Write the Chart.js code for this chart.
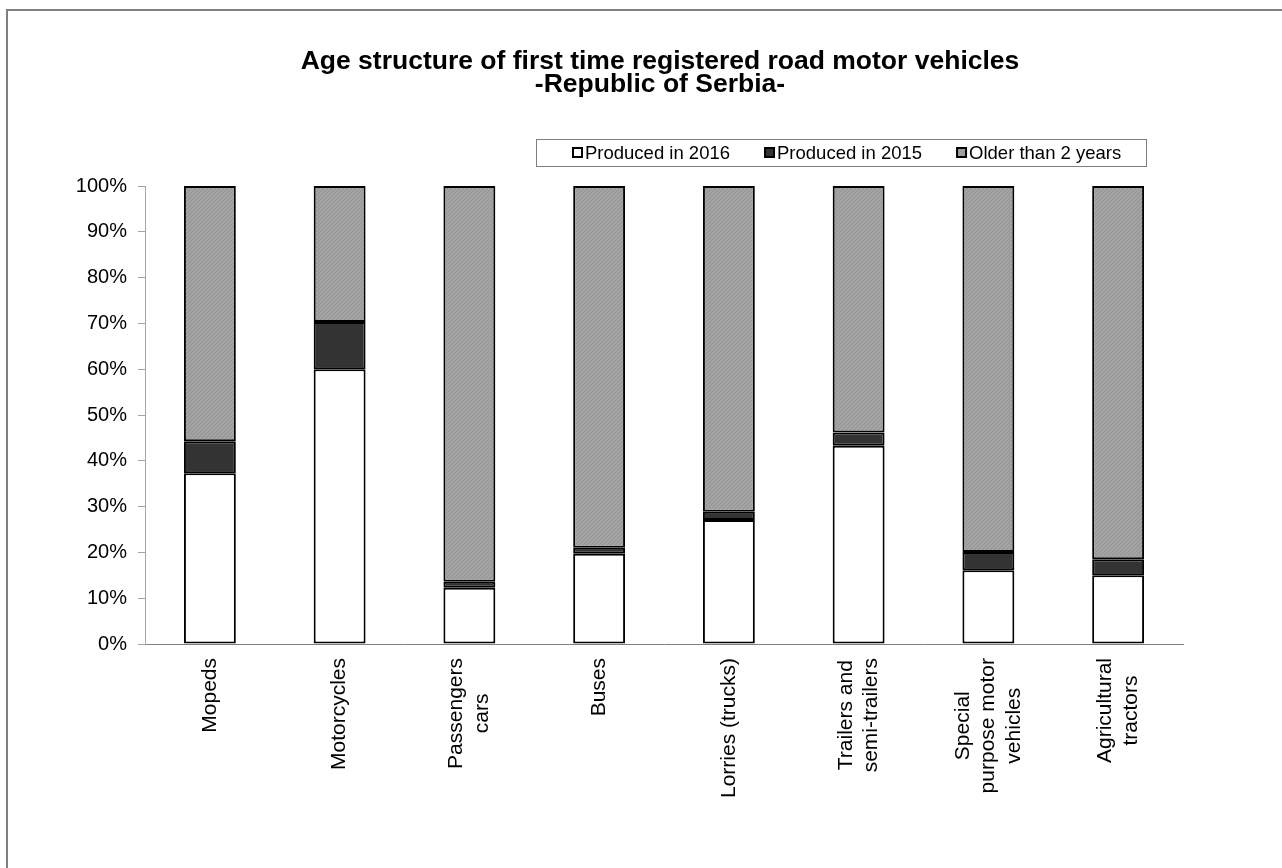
<!DOCTYPE html>
<html>
<head>
<meta charset="utf-8">
<title>Age structure of first time registered road motor vehicles</title>
<script src="https://cdn.jsdelivr.net/npm/chart.js@4.4.1/dist/chart.umd.min.js"></script>
<style>
    html, body { margin: 0; padding: 0; background: #fff; }
    #wrap { position: relative; width: 1282px; height: 868px; }
    canvas { display: block; }
</style>
</head>
<body>
<div id="wrap"><canvas id="ageChart" width="1282" height="868"></canvas></div>
<script>
// categories (multi-line labels as in the original sheet)
const categories = [
    'Mopeds',
    'Motorcycles',
    ['Passengers', 'cars'],
    'Buses',
    'Lorries (trucks)',
    ['Trailers and', 'semi-trailers'],
    ['Special', 'purpose motor', 'vehicles'],
    ['Agricultural', 'tractors']
];
const seriesNames = ['Produced in 2016', 'Produced in 2015', 'Older than 2 years'];

// shares in %
const produced2016 = [37.3, 60.0, 12.3, 19.7, 27.1, 43.3, 16.1, 15.0];
const produced2015 = [7.0, 10.3, 1.3, 1.3, 1.8, 2.9, 4.0, 3.5];
const olderThan2 = [55.7, 29.7, 86.4, 79.0, 71.1, 53.8, 79.9, 81.5];

const yMin = 0;
const yMax = 100;
const yStep = 10;

const FONT = '"Liberation Sans", Arial, sans-serif';

// fine diagonal hatch for the "older" series
function makeHatch() {
    const c = document.createElement('canvas');
    c.width = 4; c.height = 4;
    const g = c.getContext('2d');
    g.fillStyle = '#a3a3a3';
    g.fillRect(0, 0, 4, 4);
    g.strokeStyle = '#939393';
    g.lineWidth = 1;
    g.beginPath();
    g.moveTo(0, 4); g.lineTo(4, 0);
    g.moveTo(-1, 1); g.lineTo(1, -1);
    g.moveTo(3, 5); g.lineTo(5, 3);
    g.stroke();
    return g.createPattern(c, 'repeat');
}
const hatch = makeHatch();
const fills = ['#ffffff', '#333333', hatch];

// outer frame (only top and left edges are visible in the original)
const framePlugin = {
    id: 'frame',
    afterLayout(chart) {
        // the Excel title is centred on the whole sheet, not on the plot column
        const t = chart.titleBlock;
        if (t) { t.left += 31; t.right += 31; }
    },
    beforeDraw(chart) {
        const ctx = chart.ctx;
        ctx.save();
        ctx.fillStyle = '#fff';
        ctx.fillRect(0, 0, chart.width, chart.height);
        ctx.fillStyle = '#808080';
        ctx.fillRect(6, 9, 2, chart.height - 9);
        ctx.fillRect(6, 9, chart.width - 6, 2);
        ctx.restore();
    }
};

// rotated, centred multi-line category labels
const xLabelPlugin = {
    id: 'xLabels',
    afterDraw(chart) {
        const ctx = chart.ctx;
        const xs = chart.scales.x;
        ctx.save();
        ctx.font = '21px ' + FONT;
        ctx.fillStyle = '#000';
        ctx.textAlign = 'center';
        ctx.textBaseline = 'middle';
        categories.forEach((lab, i) => {
            const lines = Array.isArray(lab) ? lab : [lab];
            const x = xs.getPixelForTick(i);
            const maxW = Math.max(...lines.map(l => ctx.measureText(l).width));
            const yc = xs.top + 14 + maxW / 2;
            lines.forEach((ln, j) => {
                ctx.save();
                ctx.translate(x + (j - (lines.length - 1) / 2) * 25.5, yc);
                ctx.rotate(-Math.PI / 2);
                ctx.fillText(ln, 0, 0);
                ctx.restore();
            });
        });
        ctx.restore();
    }
};

// boxed legend, placed like the Excel one
const legendPlugin = {
    id: 'boxLegend',
    afterDraw(chart) {
        const ctx = chart.ctx;
        ctx.save();
        ctx.strokeStyle = '#808080';
        ctx.lineWidth = 1;
        ctx.strokeRect(536.5, 139.5, 610, 27);
        ctx.font = '18.5px ' + FONT;
        ctx.textBaseline = 'middle';
        let x = 573;
        chart.data.datasets.forEach(ds => {
            ctx.fillStyle = ds.backgroundColor;
            ctx.fillRect(x, 148, 9, 9);
            ctx.strokeStyle = '#000';
            ctx.lineWidth = 2;
            ctx.strokeRect(x, 148, 9, 9);
            ctx.fillStyle = '#000';
            ctx.fillText(ds.label, x + 12, 153.5);
            x += 12 + ctx.measureText(ds.label).width + 35;
        });
        ctx.restore();
    }
};

const seriesData = [produced2016, produced2015, olderThan2];

new Chart(document.getElementById('ageChart'), {
    type: 'bar',
    data: {
        labels: categories,
        datasets: seriesNames.map((name, k) => ({
            label: name,
            data: seriesData[k],
            backgroundColor: fills[k],
            borderColor: '#000',
            borderWidth: 2,
            borderSkipped: false,
            barPercentage: 0.4,
            categoryPercentage: 1
        }))
    },
    options: {
        responsive: false,
        animation: false,
        layout: { padding: { left: 75, right: 99, top: 0, bottom: 216 } },
        plugins: {
            legend: { display: false },
            tooltip: { enabled: false },
            title: {
                display: true,
                text: ['Age structure of first time registered road motor vehicles', '-Republic of Serbia-'],
                color: '#000',
                font: { family: FONT, size: 26.5, weight: 'bold', lineHeight: 0.87 },
                padding: { top: 50, bottom: 90 }
            }
        },
        scales: {
            x: {
                stacked: true,
                grid: { display: false },
                border: { display: true, color: '#808080', width: 1 },
                ticks: { display: false }
            },
            y: {
                stacked: true,
                min: yMin,
                max: yMax,
                ticks: {
                    stepSize: yStep,
                    padding: 11,
                    color: '#000',
                    font: { family: FONT, size: 20 },
                    callback: v => v + '%'
                },
                grid: { drawOnChartArea: false, drawTicks: true, tickLength: 7, color: '#a6a6a6' },
                border: { color: '#a6a6a6', width: 1 },
                afterFit: s => { s.width = 70; }
            }
        }
    },
    plugins: [framePlugin, xLabelPlugin, legendPlugin]
});
</script>
</body>
</html>
